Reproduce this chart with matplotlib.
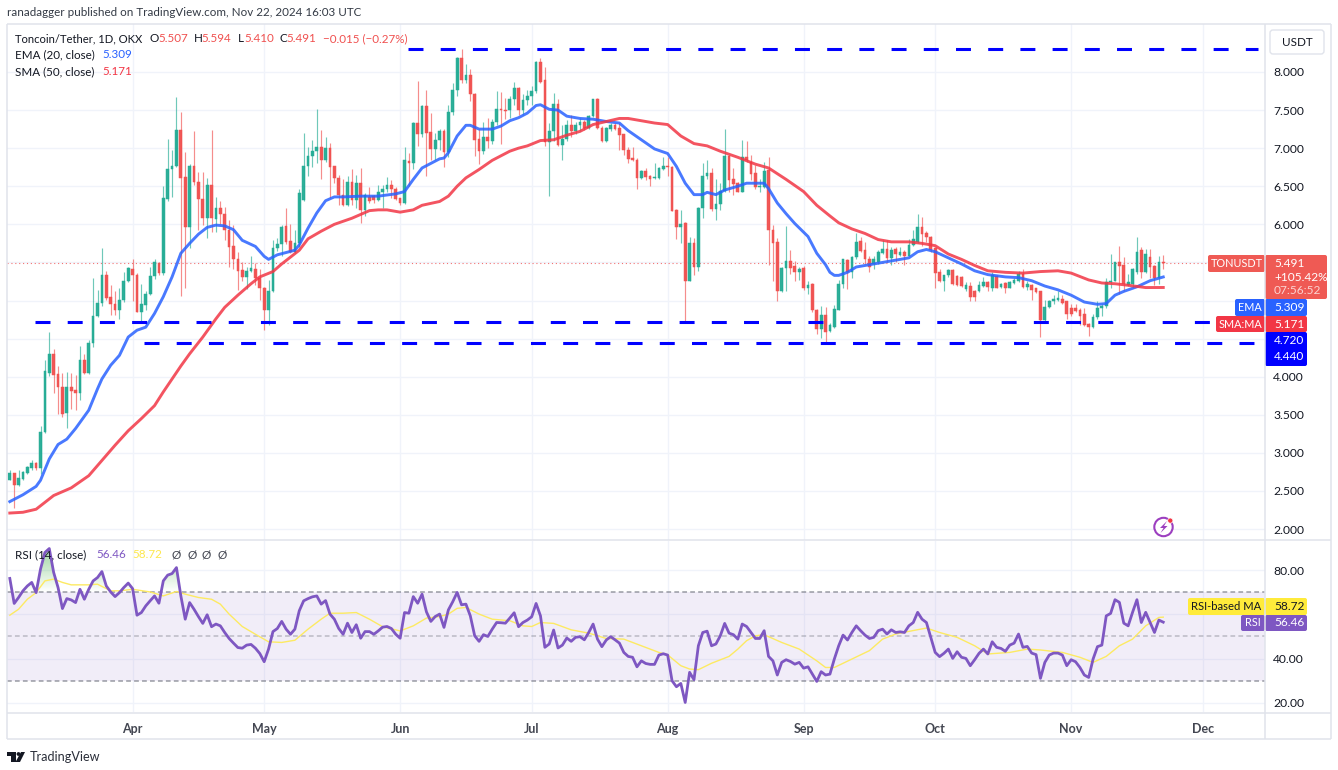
import matplotlib
matplotlib.use('Agg')
import matplotlib.pyplot as plt
import numpy as np
from matplotlib.patches import FancyBboxPatch, Circle, Polygon
from matplotlib.path import Path

plt.rcParams['font.family'] = ['Lato', 'DejaVu Sans']

# daily candles, day 0 is Mar 4 2024
opens = [2.65,2.73,2.58,2.66,2.73,2.80,2.87,2.80,3.28,4.05,
         4.30,4.03,3.87,3.52,3.86,3.82,3.78,4.22,4.05,4.44,
         4.80,4.97,5.33,5.04,4.96,4.87,5.01,5.25,5.41,5.34,
         4.85,4.94,5.09,5.32,5.49,5.36,6.33,6.72,6.77,7.24,
         6.62,5.96,6.77,6.56,6.33,6.08,6.51,6.07,6.21,6.13,
         5.93,5.71,5.55,5.40,5.31,5.39,5.42,5.30,5.17,4.88,
         5.13,5.69,5.74,5.98,5.78,5.64,5.75,6.32,6.76,6.90,
         6.96,7.02,6.84,7.00,6.76,6.61,6.39,6.25,6.56,6.32,
         6.54,6.19,6.36,6.37,6.32,6.42,6.47,6.51,6.47,6.34,
         6.28,6.83,6.81,7.33,7.19,7.55,7.21,6.99,7.11,7.23,
         6.95,7.47,7.77,8.19,7.90,7.96,7.71,7.12,6.96,7.15,
         7.10,7.35,7.51,7.50,7.50,7.64,7.79,7.50,7.63,7.68,
         7.75,8.13,7.90,7.08,7.22,7.58,7.04,7.12,7.31,7.22,
         7.30,7.35,7.26,7.42,7.64,7.26,7.09,7.25,7.31,7.26,
         7.18,6.98,6.87,6.85,6.61,6.70,6.64,6.61,6.61,6.72,
         6.77,6.75,6.19,5.97,6.02,5.26,5.75,5.44,6.22,6.63,
         6.67,6.20,6.27,6.44,6.90,6.59,6.54,6.43,6.88,6.82,
         6.67,6.49,6.49,6.71,5.93,5.77,5.12,5.43,5.52,5.45,
         5.37,5.43,5.17,5.22,4.88,4.63,4.81,4.60,4.65,4.88,
         5.22,5.53,5.37,5.57,5.78,5.66,5.55,5.48,5.50,5.62,
         5.68,5.56,5.67,5.60,5.64,5.59,5.73,5.77,5.97,5.89,
         5.84,5.69,5.37,5.26,5.33,5.40,5.32,5.31,5.15,5.19,
         5.13,5.12,5.19,5.24,5.17,5.32,5.18,5.23,5.17,5.23,
         5.25,5.35,5.18,5.21,5.17,5.12,4.75,4.92,5.00,5.01,
         5.02,4.99,4.90,4.90,4.87,4.82,4.69,4.65,4.79,4.90,
         4.93,5.24,5.26,5.50,5.46,5.20,5.22,5.38,5.66,5.37,
         5.57,5.45,5.30,5.507]
closes = [2.73,2.58,2.67,2.75,2.81,2.87,2.80,3.28,4.07,4.30,
          4.02,3.86,3.51,3.86,3.81,3.78,4.22,4.05,4.44,4.80,
          4.97,5.33,5.03,4.95,4.87,5.01,5.26,5.43,5.33,4.85,
          4.95,5.09,5.32,5.50,5.36,6.35,6.72,6.77,7.24,6.61,
          5.96,6.77,6.56,6.33,6.08,6.51,6.08,6.21,6.13,5.92,
          5.70,5.54,5.39,5.31,5.39,5.43,5.29,5.16,4.87,5.13,
          5.69,5.74,5.96,5.77,5.64,5.75,6.41,6.77,6.90,6.96,
          7.02,6.84,7.00,6.75,6.61,6.39,6.25,6.56,6.32,6.54,
          6.19,6.39,6.30,6.32,6.42,6.47,6.51,6.46,6.33,6.28,
          6.84,6.81,7.33,7.19,7.55,7.20,6.99,7.11,7.23,6.95,
          7.47,7.77,8.19,7.90,7.96,7.71,7.11,6.96,7.15,7.10,
          7.35,7.51,7.50,7.49,7.64,7.79,7.50,7.63,7.68,7.75,
          8.13,7.87,7.08,7.22,7.58,7.04,7.12,7.31,7.22,7.31,
          7.34,7.26,7.42,7.64,7.26,7.09,7.26,7.30,7.25,7.17,
          6.97,6.86,6.85,6.61,6.70,6.62,6.60,6.62,6.74,6.76,
          6.75,6.18,5.97,6.01,5.26,5.75,5.44,6.22,6.63,6.67,
          6.20,6.27,6.44,6.90,6.58,6.53,6.43,6.89,6.84,6.66,
          6.49,6.50,6.70,5.92,5.76,5.12,5.43,5.52,5.43,5.37,
          5.42,5.17,5.21,4.87,4.63,4.81,4.59,4.68,4.89,5.22,
          5.54,5.37,5.57,5.77,5.65,5.54,5.44,5.55,5.64,5.68,
          5.56,5.66,5.61,5.64,5.59,5.73,5.81,5.97,5.87,5.83,
          5.66,5.36,5.25,5.33,5.40,5.22,5.20,5.19,5.20,5.04,
          5.04,5.20,5.24,5.18,5.33,5.17,5.22,5.17,5.24,5.27,
          5.35,5.18,5.22,5.14,5.11,4.75,4.92,5.00,5.02,5.03,
          4.97,4.82,4.82,4.86,4.80,4.68,4.65,4.79,4.90,4.93,
          5.24,5.26,5.50,5.45,5.22,5.24,5.42,5.64,5.37,5.61,
          5.44,5.30,5.50,5.491]
highs = [2.77,2.74,2.78,2.76,2.83,2.91,2.88,3.35,4.22,4.59,
         4.36,4.14,4.05,4.06,4.05,4.02,4.40,4.30,4.48,5.29,
         5.14,5.69,5.39,5.20,5.13,5.17,5.38,5.44,5.54,5.36,
         5.22,5.13,5.44,5.55,5.51,6.50,7.12,6.97,7.67,7.47,
         6.95,6.79,7.23,6.69,6.69,6.61,7.24,6.36,6.30,6.23,
         6.06,5.99,5.64,5.51,5.44,5.59,5.49,5.42,5.18,5.27,
         5.79,5.82,5.99,6.21,6.01,5.93,6.47,7.20,7.02,7.11,
         7.51,7.24,7.15,7.07,6.77,6.65,6.59,6.64,6.73,6.65,
         6.74,6.41,6.49,6.39,6.52,6.51,6.62,6.58,6.49,6.35,
         7.02,6.94,7.34,7.88,7.57,7.76,7.46,7.20,7.25,7.25,
         7.57,7.86,8.20,8.30,8.10,8.04,7.72,7.25,7.34,7.39,
         7.38,7.75,7.74,7.66,7.68,7.87,7.80,7.71,7.77,7.82,
         8.15,8.19,8.06,7.33,7.73,7.64,7.31,7.37,7.44,7.35,
         7.39,7.37,7.44,7.65,7.66,7.29,7.28,7.33,7.33,7.33,
         7.19,7.01,7.01,6.87,6.71,6.74,6.65,6.81,6.75,6.88,
         6.88,6.76,6.20,6.19,6.03,5.83,5.82,6.23,6.80,6.84,
         6.74,6.60,6.54,7.25,6.91,6.74,6.55,7.11,7.09,6.91,
         6.78,6.60,6.82,6.88,5.99,5.82,5.44,5.98,5.66,5.52,
         5.44,5.45,5.25,5.23,4.89,4.93,4.92,4.70,4.94,5.27,
         5.55,5.55,5.58,5.88,5.83,5.77,5.59,5.59,5.66,5.80,
         5.79,5.70,5.70,5.70,5.66,5.81,5.93,6.13,6.09,5.91,
         5.85,5.70,5.42,5.34,5.42,5.41,5.33,5.32,5.24,5.24,
         5.14,5.26,5.31,5.26,5.37,5.33,5.23,5.24,5.25,5.29,
         5.39,5.41,5.26,5.22,5.17,5.13,5.01,5.01,5.07,5.13,
         5.07,5.00,4.96,4.96,4.90,4.90,4.70,4.82,5.00,4.96,
         5.29,5.61,5.51,5.72,5.57,5.35,5.43,5.83,5.70,5.67,
         5.68,5.46,5.59,5.594]
lows = [2.64,2.27,2.56,2.65,2.72,2.78,2.77,2.72,3.26,4.01,
        3.78,3.51,3.47,3.32,3.57,3.56,3.70,4.04,4.03,4.39,
        4.79,4.93,5.01,4.81,4.81,4.76,4.98,5.24,5.00,4.85,
        4.73,4.87,5.07,5.28,5.33,5.33,6.30,6.36,6.75,5.06,
        5.16,5.69,6.51,5.92,5.99,5.82,5.90,5.90,6.01,5.79,
        5.44,5.42,5.14,5.26,5.15,5.38,5.20,5.01,4.61,4.68,
        5.11,5.65,5.58,5.74,5.63,5.62,5.70,6.31,6.63,6.75,
        6.80,6.59,6.82,6.35,6.54,6.26,6.24,6.24,6.26,6.22,
        6.02,6.11,6.28,6.28,6.30,6.22,6.43,6.35,6.32,6.26,
        6.27,6.50,6.73,7.03,7.14,6.63,6.85,6.84,6.98,6.75,
        6.89,7.44,7.68,7.86,7.86,7.62,6.90,6.79,6.92,7.00,
        7.05,7.31,7.05,7.38,7.39,7.57,7.44,7.44,7.57,7.57,
        7.73,7.86,7.03,6.37,7.09,7.03,6.85,7.10,7.15,7.19,
        7.22,7.24,7.25,7.41,7.25,7.08,7.08,7.22,7.24,6.98,
        6.91,6.80,6.83,6.46,6.60,6.58,6.50,6.60,6.60,6.71,
        6.63,6.17,5.81,5.76,4.72,5.25,5.33,5.39,6.08,6.60,
        6.17,6.06,6.19,6.42,6.43,6.39,6.42,6.42,6.82,6.58,
        6.47,6.43,6.48,5.46,5.25,5.00,5.11,5.13,5.35,5.26,
        5.27,5.14,5.08,4.85,4.56,4.51,4.46,4.59,4.64,4.87,
        5.16,5.15,5.30,5.55,5.64,5.48,5.37,5.42,5.48,5.61,
        5.50,5.46,5.50,5.59,5.46,5.58,5.71,5.76,5.72,5.77,
        5.64,5.17,5.24,5.13,5.31,5.20,5.19,5.18,5.13,4.99,
        4.99,5.11,5.18,5.12,5.12,5.16,5.17,5.10,5.16,5.22,
        5.24,5.17,5.14,5.01,5.10,4.52,4.73,4.90,4.95,5.00,
        4.95,4.76,4.80,4.85,4.68,4.66,4.54,4.64,4.76,4.80,
        4.90,5.17,5.25,5.09,5.13,5.19,5.17,5.35,5.29,5.36,
        5.29,5.20,5.22,5.410]

ema_days = [0,3,6,7,9,11,13,15,18,20,21,23,25,27,29,31,33,35,37,39,41,43,45,47,49,51,53,56,58,59,61,63,65,66,68,70,72,74,76,80,84,88,90,92,94,96,98,99,100,102,104,105,107,110,112,114,116,118,120,121,123,125,127,130,133,136,139,141,144,147,150,152,154,156,158,159,161,163,166,168,172,173,175,177,179,182,184,186,187,188,189,191,193,195,199,203,205,207,209,211,214,217,220,223,227,230,233,236,239,242,245,248,250,252,254,257,260,263]
ema_values = [2.36,2.45,2.56,2.64,2.92,3.11,3.18,3.32,3.56,3.84,3.97,4.15,4.28,4.52,4.61,4.65,4.83,5.05,5.31,5.62,5.75,5.87,5.96,5.99,5.98,5.93,5.79,5.71,5.58,5.54,5.60,5.63,5.66,5.73,5.95,6.15,6.31,6.36,6.36,6.37,6.37,6.40,6.43,6.59,6.74,6.80,6.86,6.87,6.94,7.16,7.30,7.30,7.25,7.25,7.29,7.36,7.40,7.46,7.56,7.57,7.51,7.50,7.42,7.39,7.38,7.35,7.33,7.23,7.11,6.99,6.93,6.76,6.54,6.39,6.39,6.42,6.39,6.45,6.50,6.54,6.54,6.47,6.28,6.14,6.01,5.84,5.62,5.47,5.37,5.33,5.33,5.37,5.44,5.46,5.50,5.54,5.56,5.64,5.67,5.64,5.56,5.48,5.39,5.34,5.31,5.30,5.26,5.19,5.14,5.07,4.98,4.95,4.96,5.07,5.12,5.18,5.26,5.309]
sma_days = [0,3,6,8,10,14,18,21,24,27,30,33,35,37,39,41,44,47,49,52,55,57,60,62,64,66,68,71,74,78,82,84,86,89,92,94,98,100,102,104,107,110,114,116,118,121,124,127,130,133,136,139,141,144,147,150,153,156,159,162,166,170,173,177,181,184,187,189,192,195,198,201,205,208,211,214,217,220,223,227,231,235,239,242,246,249,252,255,259,263]
sma_values = [2.21,2.22,2.26,2.35,2.44,2.54,2.70,2.90,3.10,3.29,3.45,3.62,3.80,3.97,4.14,4.30,4.52,4.76,4.91,5.07,5.22,5.31,5.38,5.48,5.57,5.66,5.81,5.91,6.00,6.08,6.18,6.19,6.19,6.16,6.19,6.25,6.30,6.37,6.50,6.61,6.72,6.84,6.96,7.00,7.03,7.10,7.11,7.17,7.22,7.31,7.35,7.39,7.39,7.36,7.33,7.31,7.16,7.06,7.03,6.96,6.88,6.79,6.74,6.59,6.43,6.25,6.11,6.02,5.94,5.88,5.80,5.77,5.77,5.75,5.72,5.61,5.54,5.46,5.39,5.37,5.36,5.38,5.39,5.36,5.27,5.23,5.22,5.20,5.17,5.171]

rsi_values = [76.2,64.9,67.6,70.6,72.8,74.4,69.8,80.4,87.9,89.7,
              78.9,72.1,62.6,67.1,66.5,65.3,71.3,66.8,71.3,75.1,
              76.6,79.3,72.8,70.1,68.0,69.8,72.1,74.1,71.6,59.6,
              60.8,63.8,66.1,68.3,65.0,75.1,77.7,78.4,81.1,68.3,
              57.8,65.3,62.3,59.0,55.9,59.8,54.4,55.6,54.8,51.8,
              49.1,47.0,45.0,44.7,46.1,46.4,44.7,42.3,38.6,44.3,
              52.2,53.6,56.8,53.3,51.0,53.3,61.6,66.1,67.1,67.9,
              68.3,64.6,66.2,60.1,57.8,53.6,51.0,56.0,51.8,55.3,
              49.2,52.2,52.2,51.0,52.5,54.2,54.5,53.6,51.0,49.2,
              60.8,60.5,68.0,65.0,69.1,61.1,56.8,59.0,60.1,54.1,
              62.0,65.7,69.9,64.3,64.6,59.3,50.3,47.8,50.8,50.0,
              53.3,56.3,56.2,56.0,58.3,60.7,54.4,56.3,57.4,58.9,
              64.9,59.3,45.1,46.6,52.9,44.8,46.1,49.3,47.8,49.6,
              49.9,48.5,51.8,55.6,48.8,45.4,48.4,49.9,48.5,47.0,
              42.8,41.0,40.6,36.3,39.0,37.8,37.4,37.4,41.6,42.2,
              41.6,30.0,27.3,28.8,20.2,33.8,30.5,45.8,51.8,52.4,
              45.8,46.6,50.3,55.9,51.5,50.8,48.8,55.6,54.5,51.8,
              49.1,49.1,52.6,41.0,39.0,32.6,38.3,39.5,38.7,37.5,
              38.3,35.7,36.3,33.0,29.7,34.1,32.6,33.0,39.8,45.8,
              50.6,48.4,51.8,54.8,52.6,50.6,49.1,49.6,52.6,53.3,
              51.1,53.0,51.8,52.1,51.8,54.8,56.3,60.9,57.8,56.3,
              49.6,42.8,40.9,42.4,44.3,40.1,43.1,40.6,40.1,36.8,
              39.5,42.4,44.3,42.1,47.6,45.1,44.6,43.3,46.1,47.0,
              51.1,45.1,45.5,42.5,41.8,31.1,38.3,41.6,42.5,42.5,
              41.6,36.8,39.5,38.6,36.0,32.6,31.5,39.8,45.4,46.1,
              59.3,60.4,66.6,65.4,56.0,54.8,60.9,66.6,56.3,60.9,
              56.3,51.8,57.4,56.46]
rsi_ma_days = [0,2,4,6,8,10,12,14,18,20,23,25,28,32,35,38,40,43,46,48,50,53,56,59,62,65,68,71,73,76,79,82,85,89,92,95,98,100,102,104,107,110,114,117,119,121,124,128,132,136,140,144,148,150,153,155,157,160,164,166,168,170,172,176,180,184,186,188,192,196,199,202,205,209,212,216,220,223,228,232,235,240,244,247,250,253,256,259,262,263]
rsi_ma_values = [59.6,62.3,66.8,69.8,75.1,75.9,74.4,73.3,73.3,73.6,70.6,70.6,71.3,70.1,68.3,70.3,69.1,67.6,66.8,64.6,60.1,54.5,51.0,47.6,47.3,48.3,53.3,57.8,60.5,60.5,60.8,57.8,54.4,52.5,54.8,58.3,59.0,60.1,62.7,63.1,60.1,57.8,57.1,54.8,54.5,56.3,55.9,53.0,51.5,49.1,48.8,45.8,42.8,41.7,36.8,35.3,35.0,37.9,41.0,44.3,48.1,50.3,50.8,47.3,44.3,39.0,36.0,36.0,39.8,43.6,48.8,51.1,52.3,53.8,51.8,49.6,45.8,42.1,42.8,44.3,43.9,42.8,40.6,38.3,41.0,45.8,48.8,54.8,58.6,58.72]

levels = [8.30, 4.72, 4.44]
level_starts = [90.8, 5.75, 30.6]
price_ticks = [2.0,2.5,3.0,3.5,4.0,4.5,5.0,5.5,6.0,6.5,7.0,7.5,8.0]
price_labels = ['2.000','2.500','3.000','3.500','4.000','','','','6.000','6.500','7.000','7.500','8.000']
rsi_ticks = [20, 40, 60, 80]
rsi_labels = ['20.00', '40.00', '', '80.00']
month_days = [28,58,89,119,150,181,211,242,272]
month_labels = ['Apr','May','Jun','Jul','Aug','Sep','Oct','Nov','Dec']

GREEN = '#22ab94'
RED = '#f0504f'
BLUE = '#2962ff'
SMA_RED = '#f23645'
PURPLE = '#7e57c2'
YELLOW = '#fdea62'
GRID = '#f0f3fa'
FRAME = '#e0e3eb'
TXT = '#131722'
XLIM = (-0.64, 286.2)

W, H = 1338, 770
fig = plt.figure(figsize=(W/100, H/100), dpi=100, facecolor='white')


def px_axes(x0, y0, x1, y1):
    return fig.add_axes([x0/W, 1-y1/H, (x1-x0)/W, (y1-y0)/H])


ax = px_axes(7, 24, 1265, 540)
ax_rsi = px_axes(7, 541, 1265, 712)
days = np.arange(len(opens))
o, c, hi, lo = map(np.array, (opens, closes, highs, lows))
up = c >= o
cols = np.where(up, GREEN, RED)

ax.set_xlim(*XLIM)
ax.set_ylim(1.856, 8.63)
ax.grid(True, color=GRID, lw=1)
ax.set_axisbelow(True)
ax.set_yticks(price_ticks)
ax.set_yticklabels(price_labels)
ax.set_xticks(month_days)
ax.tick_params(axis='x', length=0, labelbottom=False)
ax.yaxis.tick_right()
ax.tick_params(axis='y', length=0, pad=6, labelsize=8.7, labelcolor=TXT)
for s in ax.spines.values():
    s.set_visible(False)

ax.axhline(c[-1], color=RED, lw=0.8, ls=(0, (1, 2.5)), alpha=0.8, zorder=1)
ax.vlines(days, lo, hi, colors=cols, lw=0.85, alpha=0.65, zorder=2)
ax.bar(days, np.abs(c-o), bottom=np.minimum(o, c), width=0.62, color=cols,
       edgecolor=cols, linewidth=0.35, alpha=0.95, zorder=3)
ax.plot(ema_days, ema_values, color=BLUE, lw=2.1, alpha=0.85, zorder=4, solid_joinstyle='round')
ax.plot(sma_days, sma_values, color=SMA_RED, lw=2.1, alpha=0.85, zorder=4, solid_joinstyle='round')
for lev, st in zip(levels, level_starts):
    ax.plot([st, 284.6], [lev, lev], color='#0000ff', lw=2.2, zorder=5,
            dashes=(4.9, 5.64), dash_capstyle='butt')

ax_rsi.set_xlim(*XLIM)
ax_rsi.set_ylim(15.9, 93.1)
ax_rsi.grid(True, color=GRID, lw=1)
ax_rsi.set_axisbelow(True)
ax_rsi.set_yticks(rsi_ticks)
ax_rsi.set_yticklabels(rsi_labels)
ax_rsi.yaxis.tick_right()
ax_rsi.tick_params(axis='y', length=0, pad=6, labelsize=8.7, labelcolor=TXT)
ax_rsi.set_xticks(month_days)
ax_rsi.set_xticklabels(month_labels, fontsize=9, fontweight='bold', color='#434651')
ax_rsi.tick_params(axis='x', length=0, pad=8)
for s in ax_rsi.spines.values():
    s.set_visible(False)

ax_rsi.axhspan(30, 70, color=PURPLE, alpha=0.1, lw=0, zorder=1)
for lev, al in zip([70, 50, 30], [0.75, 0.45, 0.75]):
    ax_rsi.axhline(lev, color='#787b86', lw=1.1, alpha=al, dashes=(3.1, 2.1), zorder=2)

# overbought gradient, clipped to the part of the rsi above 70
rsi = np.array(rsi_values)
over = ax_rsi.fill_between(days, 70, rsi, where=rsi > 70, interpolate=True, color='none', lw=0)
grad = np.zeros((64, 2, 4))
grad[..., 0], grad[..., 1], grad[..., 2] = 0.30, 0.69, 0.31
grad[..., 3] = np.linspace(0.0, 0.55, 64)[:, None]
img = ax_rsi.imshow(grad, extent=(XLIM[0], XLIM[1], 70, 90), origin='lower', aspect='auto', zorder=2)
img.set_clip_path(Path.make_compound_path(*over.get_paths()), ax_rsi.transData)
ax_rsi.set_xlim(*XLIM)
ax_rsi.set_ylim(15.9, 93.1)

ax_rsi.plot(rsi_ma_days, rsi_ma_values, color=YELLOW, lw=1.0, zorder=3)
ax_rsi.plot(days, rsi, color=PURPLE, lw=2.0, zorder=4, solid_joinstyle='round')

# overlay in pixel coordinates for the frame, price tags and legend text
ov = fig.add_axes([0, 0, 1, 1], facecolor='none')
ov.set_xlim(0, W)
ov.set_ylim(H, 0)
ov.axis('off')


def txt(x, y, s, color=TXT, size=8.6, ha='left', **kw):
    ov.text(x, y, s, color=color, fontsize=size, ha=ha, va='center', **kw)


def box(x0, y0, x1, y1, color):
    ov.add_patch(FancyBboxPatch((x0+1, y0+1), x1-x0-2, y1-y0-2, boxstyle='round,pad=1,rounding_size=2',
                                fc=color, ec='none', mutation_aspect=1))


for seg in [((7, 24), (1331, 24)), ((7, 24), (7, 739)), ((1331, 24), (1331, 739)),
            ((7, 739), (1331, 739)), ((7, 713), (1331, 713)), ((7, 540), (1331, 540)),
            ((1265, 24), (1265, 739))]:
    ov.plot(*zip(*seg), color=FRAME, lw=1.1, solid_capstyle='butt')

# header and legends
txt(7, 12, 'ranadagger published on TradingView.com, Nov 22, 2024 16:03 UTC', color='#333a45', size=8.4)
txt(15, 38.5, 'Toncoin/Tether, 1D, OKX', size=8.1)
for x, s in [(150, 'O'), (194, 'H'), (238, 'L'), (279, 'C')]:
    txt(x, 38.5, s, size=8.4)
for x, s in [(158.5, '5.507'), (201.5, '5.594'), (244, '5.410'), (286, '5.491'), (323, '\u22120.015 (\u22120.27%)')]:
    txt(x, 38.5, s, color=RED, size=8.4)
txt(15, 55, 'EMA (20, close)', size=8.4)
txt(102, 55, '5.309', color=BLUE, size=8.4)
txt(15, 71.5, 'SMA (50, close)', size=8.4)
txt(102, 71.5, '5.171', color=SMA_RED, size=8.4)
txt(15, 555, 'RSI (14, close)', size=8.4)
txt(96, 555, '56.46', color=PURPLE, size=8.4)
txt(132, 555, '58.72', color='#fde74c', size=8.4)
for x in [172, 187, 202, 217]:
    txt(x, 555, '\u00d8', color='#434651', size=8.4)

# currency button
ov.add_patch(FancyBboxPatch((1271, 31), 52, 22, boxstyle='round,pad=1,rounding_size=3', fc='white', ec=FRAME, lw=1))
txt(1297, 42, 'USDT', ha='center', size=8.4)

# price tags
box(1208, 255, 1265, 272, '#ef5a54')
txt(1237, 263.5, 'TONUSDT', color='white', ha='center', size=7.8)
box(1265, 255, 1327, 299, '#ef5a54')
txt(1274, 263.5, '5.491', color='white')
txt(1274, 277.5, '+105.42%', color='white')
txt(1274, 291, '07:56:52', color='#fbd3d1')
box(1235, 299, 1265, 316, BLUE)
txt(1250, 307.5, 'EMA', color='white', ha='center', size=7.8)
box(1265, 299, 1307, 316, BLUE)
txt(1274, 307.5, '5.309', color='white')
box(1216, 316, 1265, 332, SMA_RED)
txt(1240.5, 324, 'SMA:MA', color='white', ha='center', size=7.8)
box(1265, 316, 1307, 332, SMA_RED)
txt(1274, 324, '5.171', color='white')
box(1265, 332, 1307, 366, '#0000ff')
txt(1274, 340.5, '4.720', color='white')
txt(1274, 357, '4.440', color='white')
box(1188, 598, 1265, 615, '#ffeb3b')
txt(1226.5, 606.5, 'RSI-based MA', ha='center', size=8.1)
box(1265, 598, 1307, 615, '#ffeb3b')
txt(1274, 606.5, '58.72')
box(1241, 615, 1265, 631, PURPLE)
txt(1253, 623, 'RSI', color='white', ha='center', size=7.8)
box(1265, 615, 1307, 631, PURPLE)
txt(1274, 623, '56.46', color='white')

# lightning icon
ov.add_patch(Circle((1163.5, 527), 9.2, fc='white', ec='#9c3fc0', lw=1.5))
ov.add_patch(Polygon([(1167, 521), (1160, 528), (1163.5, 528), (1160.5, 533), (1167.5, 526), (1164, 526)], fc='#9c3fc0', ec='none'))
ov.add_patch(Circle((1170.3, 520.6), 2.6, fc='#f23645', ec='white', lw=0.5))

# logo
logo = '#131722'
ov.add_patch(Polygon([(7, 752), (16, 752), (16, 762), (11, 762), (11, 756), (7, 756)], fc=logo, ec='none'))
ov.add_patch(Circle((18.5, 754), 1.9, fc=logo, ec='none'))
ov.add_patch(Polygon([(21, 752), (25, 752), (20, 762), (15.5, 762)], fc=logo, ec='none'))
txt(30, 757, 'TradingView', color='#2a2e39', size=9.1)

fig.savefig('out.png', dpi=100)
